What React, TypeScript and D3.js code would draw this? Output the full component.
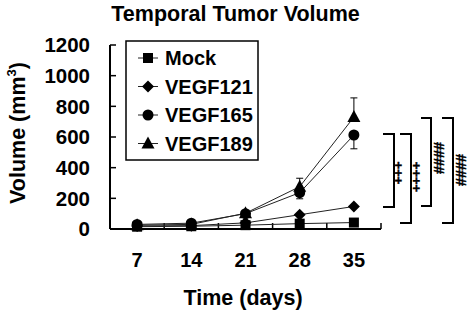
import React from "react";
import * as d3 from "d3";

const days = ["7", "14", "21", "28", "35"];
const seriesNames = ["Mock", "VEGF121", "VEGF165", "VEGF189"];
const mock = [15, 18, 25, 35, 42];
const vegf121 = [20, 22, 40, 93, 147];
const vegf165 = [30, 38, 100, 237, 613];
const vegf189 = [25, 30, 103, 276, 730];
const err165 = [3, 4, 10, 40, 90];
const err189 = [3, 4, 10, 55, 125];
const yTicks = [0, 200, 400, 600, 800, 1000, 1200];
const signif = ["+++", "++++", "####", "####"];

const W = 471, H = 314;
const font = "'Liberation Sans', Arial, sans-serif";

export default function App() {
  const x = d3.scaleBand<string>().domain(days).range([110, 381]).paddingInner(0).paddingOuter(0);
  const y = d3.scaleLinear().domain([0, 1200]).range([229, 45]);
  const cx = (d: string) => (x(d) as number) + x.bandwidth() / 2;
  const line = d3.line<number>().x((_, i) => cx(days[i])).y((v) => y(v));
  const all = [mock, vegf121, vegf165, vegf189];
  const errDir = [0, 0, -1, 1];
  const errs = [null, null, err165, err189];

  const marker = (k: number, px: number, py: number, key: string) => {
    if (k === 0) return <rect key={key} x={px - 5} y={py - 5} width={10} height={10} fill="#000" />;
    if (k === 1) return <path key={key} d={`M${px},${py - 6}L${px + 6},${py}L${px},${py + 6}L${px - 6},${py}Z`} fill="#000" />;
    if (k === 2) return <circle key={key} cx={px} cy={py} r={5.5} fill="#000" />;
    return <path key={key} d={`M${px},${py - 7}L${px + 6.5},${py + 5}L${px - 6.5},${py + 5}Z`} fill="#000" />;
  };

  const brackets = [
    { x0: 383, x1: 394, top: 134, bot: 207, tx: 399, ty: 173, fs: 13 },
    { x0: 400, x1: 411, top: 134, bot: 223, tx: 416.5, ty: 177, fs: 13 },
    { x0: 421, x1: 431, top: 118, bot: 206, tx: 439, ty: 158, fs: 14.5 },
    { x0: 442, x1: 453, top: 118, bot: 223, tx: 461, ty: 170, fs: 14.5 },
  ];

  return (
    <svg width={W} height={H} style={{ position: "absolute", left: 0, top: 0, background: "#fff" }} fontFamily={font}>
      <rect width={W} height={H} fill="#fff" />
      <text x={235.5} y={20.5} textAnchor="middle" fontWeight="bold" fontSize={21.5}>Temporal Tumor Volume</text>

      {/* y axis */}
      <line x1={110} x2={110} y1={y(1200)} y2={y(0)} stroke="#000" strokeWidth={2} />
      {yTicks.map((t) => (
        <g key={t}>
          <line x1={110} x2={116} y1={y(t)} y2={y(t)} stroke="#000" strokeWidth={1.5} />
          <text x={90} y={y(t)} dy="0.36em" textAnchor="end" fontWeight="bold" fontSize={20.5}>{t}</text>
        </g>
      ))}

      {/* x axis */}
      <line x1={110} x2={381} y1={y(0)} y2={y(0)} stroke="#000" strokeWidth={2} />
      {days.slice(1).concat(["end"]).map((d, i) => {
        const xp = d === "end" ? 381 : (x(d) as number);
        return <line key={i} x1={xp} x2={xp} y1={y(0)} y2={y(0) - 6} stroke="#000" strokeWidth={1.5} />;
      })}
      {days.map((d) => (
        <text key={d} x={cx(d)} y={267} textAnchor="middle" fontWeight="bold" fontSize={20}>{d}</text>
      ))}
      <text x={243} y={305} textAnchor="middle" fontWeight="bold" fontSize={21.5}>Time (days)</text>
      <text transform="translate(24.5,133) rotate(-90)" textAnchor="middle" fontWeight="bold" fontSize={21.5}>
        Volume (mm<tspan fontSize={13} dy={-9}>3</tspan><tspan dy={9}>)</tspan>
      </text>

      {/* lines */}
      {all.map((s, k) => (
        <path key={k} d={line(s) as string} fill="none" stroke="#222" strokeWidth={1} />
      ))}
      {/* error bars */}
      {all.map((s, k) => {
        const e = errs[k];
        if (!e) return null;
        return s.map((v, i) => {
          const px = cx(days[i]);
          const ye = y(v + errDir[k] * e[i]);
          return (
            <g key={`${k}-${i}`}>
              <line x1={px} x2={px} y1={y(v)} y2={ye} stroke="#000" strokeWidth={1} />
              <line x1={px - 3.5} x2={px + 3.5} y1={ye} y2={ye} stroke="#000" strokeWidth={1} />
            </g>
          );
        });
      })}
      {all.map((s, k) => s.map((v, i) => marker(k, cx(days[i]), y(v), `m${k}-${i}`)))}

      {/* legend */}
      <rect x={126} y={41} width={132} height={119} fill="#fff" stroke="#000" strokeWidth={1.5} />
      {seriesNames.map((n, k) => {
        const ly = 58 + k * 28.5;
        return (
          <g key={n}>
            <line x1={138} x2={158} y1={ly} y2={ly} stroke="#222" strokeWidth={1} />
            {marker(k, 148, ly, `l${k}`)}
            <text x={165} y={ly} dy="0.36em" fontWeight="bold" fontSize={20}>{n}</text>
          </g>
        );
      })}

      {/* significance brackets */}
      {brackets.map((b, i) => (
        <g key={i}>
          <path d={`M${b.x0},${b.top}H${b.x1}V${b.bot}H${b.x0}`} fill="none" stroke="#000" strokeWidth={2} />
          <text transform={`translate(${b.tx},${b.ty}) rotate(90)`} textAnchor="middle" dy="0.35em" fontWeight="bold" fontSize={b.fs} stroke="#000" strokeWidth={0.4}>{signif[i]}</text>
        </g>
      ))}
    </svg>
  );
}
